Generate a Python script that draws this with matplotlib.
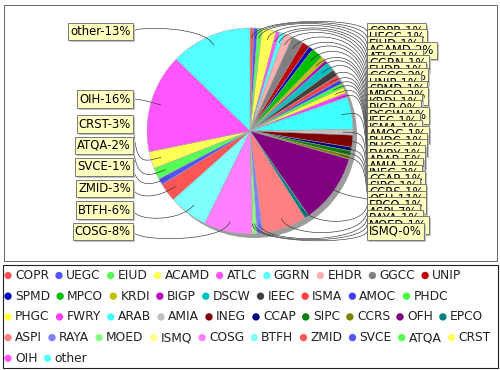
import numpy as np
import matplotlib
matplotlib.use('Agg')
import matplotlib.pyplot as plt
from matplotlib.patches import Circle, Rectangle, PathPatch
from matplotlib.path import Path
import matplotlib.transforms as mtransforms

plt.rcParams['font.family'] = ['DejaVu Sans']

categories = ["COPR", "UEGC", "EIUD", "ACAMD", "ATLC", "GGRN", "EHDR", "GGCC", "UNIP",
              "SPMD", "MPCO", "KRDI", "BIGP", "DSCW", "IEEC", "ISMA", "AMOC", "PHDC",
              "PHGC", "FWRY", "ARAB", "AMIA", "INEG", "CCAP", "SIPC", "CCRS", "OFH", "EPCO",
              "ASPI", "RAYA", "MOED", "ISMQ", "COSG", "BTFH", "ZMID", "SVCE", "ATQA", "CRST",
              "OIH", "other"]
values = [6, 6, 7, 22, 6, 8, 13, 18, 12,
          7, 18, 8, 5, 14, 11, 8, 6, 7,
          9, 7, 51, 9, 19, 6, 7, 6, 110, 7,
          70, 9, 6, 2, 76, 62, 29, 10, 18, 27,
          156, 128]

palette = ["#FF5555", "#5555FF", "#55FF55", "#FFFF55", "#FF55FF", "#55FFFF",
           "#FFAFAF", "#808080", "#C00000", "#0000C0", "#00C000", "#C0C000",
           "#C000C0", "#00C0C0", "#404040", "#FF4040", "#4040FF", "#40FF40",
           "#FFFF40", "#FF40FF", "#40FFFF", "#C0C0C0", "#800000", "#000080",
           "#008000", "#808000", "#800080", "#008080", "#FF8080", "#8080FF",
           "#80FF80", "#FFFF80", "#FF80FF", "#80FFFF"]
colors = [palette[i % len(palette)] for i in range(len(categories))]

# legend rows (items per row, flow layout as in the reference)
legend_rows = [9, 9, 10, 10, 2]

W, H = 500, 370
fig = plt.figure(figsize=(5.0, 3.7), dpi=100)
ax = fig.add_axes([0, 0, 1, 1])

def Y(yt):
    return H - yt

cx, cyt, R = 250, 131, 103
cy = Y(cyt)

# frames
ax.add_patch(Rectangle((4, Y(261)), 493, 256, fill=False, edgecolor='#666666', lw=0.7, zorder=0.5))
ax.add_patch(Rectangle((2.5, Y(368)), 495, 103, fill=False, edgecolor='#222222', lw=0.8, zorder=0.5))

# shadow
ax.add_patch(Circle((cx + 4, cy - 4), R, facecolor='#9c9c9c', edgecolor='none', zorder=0.8))
wedges, _ = ax.pie(values, colors=colors, startangle=90, counterclock=False,
                   center=(cx, cy), radius=R,
                   wedgeprops=dict(edgecolor='#a8a8a8', linewidth=0.35))

vals = np.array(values, dtype=float)
frac = vals / vals.sum()
cum = np.concatenate([[0], np.cumsum(frac)[:-1]])
mid = np.radians(90 - 360 * (cum + frac / 2))
pcts = [int(round(f * 100)) for f in frac]

RL = 114.0
gap = 3.0
linkp = 0.9
ymin_c, ymax_c = 31.4, 231.5
spacing = 21.5

left_idx = [i for i in range(len(values)) if np.cos(mid[i]) < 0]
right_idx = [i for i in range(len(values)) if np.cos(mid[i]) >= 0]

def distribute(idx):
    base = {i: cyt - np.sin(mid[i]) * RL for i in idx}
    order = sorted(idx, key=lambda i: base[i])
    n = len(order)
    if n * spacing > (ymax_c - ymin_c) + spacing:
        ys = np.linspace(ymin_c, ymax_c, n)
        return dict(zip(order, ys))
    ys = [min(max(base[i], ymin_c), ymax_c) for i in order]
    for k in range(1, n):
        ys[k] = max(ys[k], ys[k - 1] + spacing)
    if ys[-1] > ymax_c:
        ys[-1] = ymax_c
        for k in range(n - 2, -1, -1):
            ys[k] = min(ys[k], ys[k + 1] - spacing)
    return dict(zip(order, ys))

alloc = {}
alloc.update(distribute(left_idx))
alloc.update(distribute(right_idx))

fs = 8.4
padf = 0.18
pad_px = padf * fs * 100 / 72
shadow_tr = mtransforms.offset_copy(ax.transData, fig=fig, x=2, y=-2, units='dots')

z = 5
for side, idx in (("L", left_idx), ("R", right_idx)):
    order = sorted(idx, key=lambda i: alloc[i])
    for i in order:
        th = mid[i]
        ty = alloc[i]
        if side == "L":
            ax_x = cx - RL
            tx = ax_x - gap
        else:
            ax_x = cx + RL
            tx = ax_x + gap
        lx = cx + np.cos(th) * R * linkp
        ly = cyt - np.sin(th) * R * linkp
        ex = cx + np.cos(th) * RL
        ey = cyt - np.sin(th) * RL
        path = Path([(tx, Y(ty)), (ax_x, Y(ey)), (ex, Y(ey)), (lx, Y(ly))],
                    [Path.MOVETO, Path.CURVE4, Path.CURVE4, Path.CURVE4])
        ax.add_patch(PathPatch(path, facecolor='none', edgecolor='#333333', lw=0.45, zorder=3))

        label = f"{categories[i]}-{pcts[i]}%"
        if side == "L":
            xt, ha = tx - pad_px, 'right'
        else:
            xt, ha = tx + pad_px, 'left'
        ax.text(xt, Y(ty), label, ha=ha, va='center', fontsize=fs, color='none',
                transform=shadow_tr, zorder=z,
                bbox=dict(boxstyle=f'square,pad={padf}', facecolor='#c4c4c4', edgecolor='none'))
        z += 1
        ax.text(xt, Y(ty), label, ha=ha, va='center', fontsize=fs, color='black', zorder=z,
                bbox=dict(boxstyle=f'square,pad={padf}', facecolor='#FFFFC0', edgecolor='#666666', lw=0.6))
        z += 1

# legend (flow layout)
lfs = 8.8
renderer = fig.canvas.get_renderer()
row_y0, row_step = 275.5, 20.7
k = 0
for r, nrow in enumerate(legend_rows):
    x0 = 4.5
    yc = Y(row_y0 + r * row_step)
    for _ in range(nrow):
        name = categories[k]
        ax.scatter([x0 + 3.5], [yc], s=28, color=colors[k], edgecolors='none', zorder=4)
        t = ax.text(x0 + 10.5, yc, name, fontsize=lfs, ha='left', va='center',
                    color='#222222', zorder=4)
        w = t.get_window_extent(renderer).width
        x0 = x0 + 10.5 + w + 6.5
        k += 1

ax.set_xlim(0, W)
ax.set_ylim(0, H)
ax.set_aspect('auto')
ax.axis('off')
fig.savefig('out.png', dpi=100)
